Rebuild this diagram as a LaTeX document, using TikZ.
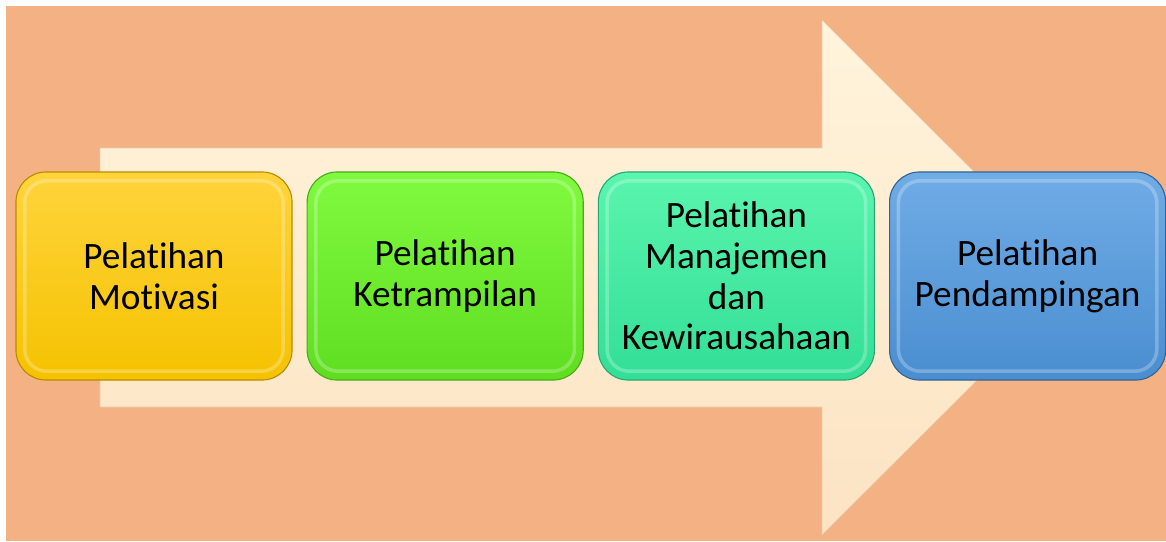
\documentclass[tikz,border=0pt]{standalone}
\usepackage{fontspec}
\setmainfont[Ligatures={NoCommon,NoContextual,NoRare}]{Carlito}
\usepackage{tikz}
\usetikzlibrary{positioning}

\definecolor{salmonbg}{HTML}{F4B183}
\definecolor{creamtop}{HTML}{FFF4DC}
\definecolor{creambot}{HTML}{FCE3C3}
\definecolor{creamedge}{HTML}{E9CBA6}

\begin{document}
\begin{tikzpicture}[
    x=0.025cm, y=-0.025cm,
    node distance=0.35cm,
    stage/.style={rectangle, rounded corners=0.75cm, minimum width=6.9cm, minimum height=5.2cm,
        align=center, font=\fontsize{26.5}{29}\selectfont, line width=0.8pt,
        path picture={\draw[white, opacity=0.25, line width=2.5pt, rounded corners=0.55cm]
            ([shift={(0.22cm,-0.22cm)}]path picture bounding box.north west) rectangle
            ([shift={(-0.22cm,0.22cm)}]path picture bounding box.south east);}},
    yellowbox/.style={stage, top color={rgb,255:red,255;green,212;blue,60}, bottom color={rgb,255:red,245;green,194;blue,0}, draw={rgb,255:red,185;green,140;blue,0}},
    greenbox/.style={stage, top color={rgb,255:red,128;green,250;blue,64}, bottom color={rgb,255:red,95;green,222;blue,32}, draw={rgb,255:red,77;green,170;blue,30}},
    tealbox/.style={stage, top color={rgb,255:red,90;green,245;blue,174}, bottom color={rgb,255:red,51;green,222;blue,150}, draw={rgb,255:red,42;green,168;blue,116}},
    bluebox/.style={stage, top color={rgb,255:red,112;green,172;blue,230}, bottom color={rgb,255:red,74;green,142;blue,208}, draw={rgb,255:red,52;green,100;blue,150}}
]

% background and size
\useasboundingbox (0,0) rectangle (1166,541);
\fill[salmonbg] (6,6) rectangle (1166,541);

% big arrow behind the steps
\shade[top color=creamtop, bottom color=creambot, draw=creamedge]
    (100,148) -- (822,148) -- (822,20) -- (1080,277.5) -- (822,535) -- (822,407) -- (100,407) -- cycle;

% steps
\node[yellowbox] (motiv) at (154,276) {Pelatihan\\Motivasi};
\node[greenbox, right=of motiv] (trampil) {Pelatihan\\Ketrampilan};
\node[tealbox, right=of trampil] (manaj) {Pelatihan\\Manajemen\\dan\\Kewirausahaan};
\node[bluebox, right=of manaj] (damping) {Pelatihan\\Pendampingan};

\end{tikzpicture}
\end{document}
